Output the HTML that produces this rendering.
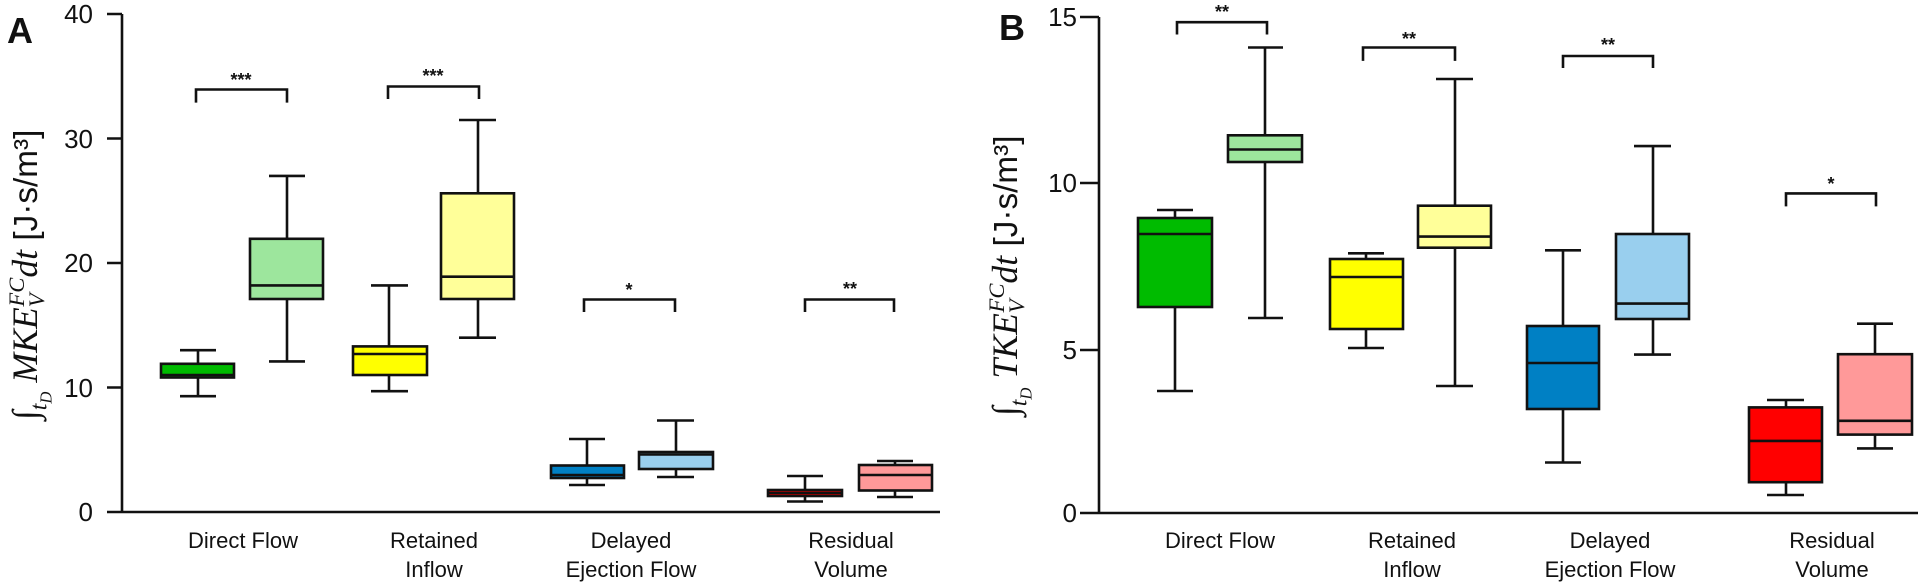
<!DOCTYPE html>
<html><head><meta charset="utf-8"><style>
html,body{margin:0;padding:0;background:#fff}
svg{display:block}
text{font-family:"Liberation Sans",Arial,sans-serif;fill:#111}
.t{font-size:26px}
.x{font-size:22px;text-anchor:middle}
.s{font-size:18px;font-weight:bold;text-anchor:middle}
.m{font-family:"Liberation Serif","DejaVu Serif",serif;font-style:italic}
</style></head><body>
<svg width="1925" height="584" viewBox="0 0 1925 584" xmlns="http://www.w3.org/2000/svg">
<g stroke="#111" stroke-width="2.6" fill="none">
<path d="M122 14V512M107 512H940M107 14H122M107 138.5H122M107 263H122M107 387.5H122"/>
<path d="M1099 17V513M1080 513H1918M1080 17H1099M1080 183H1099M1080 350H1099"/>
</g>
<g stroke="#111" stroke-width="2.6">
<path d="M198 363.8V350.2M198 377.5V396.2M180 350.2H216M180 396.2H216" fill="none"/>
<rect x="161" y="363.8" width="73" height="13.7" fill="#00bb00"/>
<path d="M161 375H234"/>
<path d="M287 238.8V175.9M287 299V361.4M269 175.9H305M269 361.4H305" fill="none"/>
<rect x="250" y="238.8" width="73" height="60.2" fill="#9de69d"/>
<path d="M250 285.4H323"/>
<path d="M389 346.4V285.4M389 375V391.2M371 285.4H408M371 391.2H408" fill="none"/>
<rect x="353" y="346.4" width="74" height="28.6" fill="#ffff00"/>
<path d="M353 354H427"/>
<path d="M478 193.3V120M478 299V337.7M459 120H496M459 337.7H496" fill="none"/>
<rect x="441" y="193.3" width="73" height="105.7" fill="#ffff99"/>
<path d="M441 276.7H514"/>
<path d="M587 465.5V439M587 478V485M569 439H605M569 485H605" fill="none"/>
<rect x="551" y="465.5" width="73" height="12.5" fill="#0080c4"/>
<path d="M551 475H624"/>
<path d="M676 452V420.5M676 469V477M657 420.5H694M657 477H694" fill="none"/>
<rect x="639" y="452" width="74" height="17" fill="#99cfee"/>
<path d="M639 454.5H713"/>
<path d="M805 490V476M805 496V501.5M787 476H823M787 501.5H823" fill="none"/>
<rect x="768" y="490" width="74" height="6" fill="#b80000"/>
<path d="M768 493H842" stroke-width="2"/>
<path d="M895 465V461M895 490.5V497M877 461H913M877 497H913" fill="none"/>
<rect x="859" y="465" width="73" height="25.5" fill="#ff9999"/>
<path d="M859 475H932"/>

<path d="M1175 218V210M1175 307V391M1157 210H1193M1157 391H1193" fill="none"/>
<rect x="1138" y="218" width="74" height="89" fill="#00bb00"/>
<path d="M1138 234H1212"/>
<path d="M1265 135.3V47.5M1265 162V318M1248 47.5H1283M1248 318H1283" fill="none"/>
<rect x="1228" y="135.3" width="74" height="26.7" fill="#9de69d"/>
<path d="M1228 149.5H1302"/>
<path d="M1366 259V253.3M1366 329V348M1348 253.3H1384M1348 348H1384" fill="none"/>
<rect x="1330" y="259" width="73" height="70" fill="#ffff00"/>
<path d="M1330 277H1403"/>
<path d="M1455 205.7V79M1455 247.7V386M1436 79H1473M1436 386H1473" fill="none"/>
<rect x="1418" y="205.7" width="73" height="42" fill="#ffff99"/>
<path d="M1418 236.6H1491"/>
<path d="M1563 326V250.3M1563 409V462.5M1545 250.3H1581M1545 462.5H1581" fill="none"/>
<rect x="1527" y="326" width="72" height="83" fill="#0080c4"/>
<path d="M1527 363H1599"/>
<path d="M1653 234V146.1M1653 319V354.6M1634 146.1H1671M1634 354.6H1671" fill="none"/>
<rect x="1616" y="234" width="73" height="85" fill="#99cfee"/>
<path d="M1616 303.6H1689"/>
<path d="M1786 407.4V400M1786 482.2V495M1767 400H1804M1767 495H1804" fill="none"/>
<rect x="1749" y="407.4" width="73" height="74.8" fill="#ff0000"/>
<path d="M1749 440.9H1822"/>
<path d="M1875 354.2V323.7M1875 434.6V448.4M1857 323.7H1893M1857 448.4H1893" fill="none"/>
<rect x="1838" y="354.2" width="74" height="80.4" fill="#ff9999"/>
<path d="M1838 420.8H1912"/>
</g>
<g stroke="#111" stroke-width="2.6" fill="none">
<path d="M196 102.6V89.5H287V102.6"/>
<path d="M388 99V86.5H479V99"/>
<path d="M584 312V299.5H675V312"/>
<path d="M805 312V299.5H894V312"/>
<path d="M1177 34.5V22.2H1267V34.5"/>
<path d="M1363 60.9V47.5H1455V60.9"/>
<path d="M1563 68V56H1653V68"/>
<path d="M1786 206.4V193.4H1876V206.4"/>
</g>
<g>
<text class="s" x="241" y="86">***</text>
<text class="s" x="433" y="82">***</text>
<text class="s" x="629" y="296">*</text>
<text class="s" x="850" y="295">**</text>
<text class="s" x="1222" y="18">**</text>
<text class="s" x="1409" y="45">**</text>
<text class="s" x="1608" y="51">**</text>
<text class="s" x="1831" y="190">*</text>
</g>
<g class="t" text-anchor="end">
<text x="93" y="23">40</text>
<text x="93" y="148">30</text>
<text x="93" y="272">20</text>
<text x="93" y="397">10</text>
<text x="93" y="521">0</text>
<text x="1077" y="26">15</text>
<text x="1077" y="192">10</text>
<text x="1077" y="359">5</text>
<text x="1077" y="522">0</text>
</g>
<g class="x">
<text x="243" y="548">Direct Flow</text>
<text x="434" y="548">Retained</text><text x="434" y="577">Inflow</text>
<text x="631" y="548">Delayed</text><text x="631" y="577">Ejection  Flow</text>
<text x="851" y="548">Residual</text><text x="851" y="577">Volume</text>
<text x="1220" y="548">Direct Flow</text>
<text x="1412" y="548">Retained</text><text x="1412" y="577">Inflow</text>
<text x="1610" y="548">Delayed</text><text x="1610" y="577">Ejection  Flow</text>
<text x="1832" y="548">Residual</text><text x="1832" y="577">Volume</text>
</g>
<text x="7" y="43" style="font-size:36px;font-weight:bold">A</text>
<text x="999" y="40" style="font-size:36px;font-weight:bold">B</text>
<text transform="translate(37,420) rotate(-90) scale(1.19)" style="font-size:30px"><tspan class="m">∫</tspan><tspan class="m" style="font-size:20px" dy="8">t</tspan><tspan class="m" style="font-size:14px" dy="4">D</tspan><tspan class="m" dy="-12"> MKE</tspan><tspan class="m" style="font-size:19px" dy="6">V</tspan><tspan class="m" style="font-size:19px" dx="-11" dy="-17">FC</tspan><tspan class="m" dy="11">dt</tspan><tspan style="font-family:'Liberation Sans',sans-serif;font-size:28px"> [J·s/m³]</tspan></text>
<text transform="translate(1017,416) rotate(-90) scale(1.19)" style="font-size:30px"><tspan class="m">∫</tspan><tspan class="m" style="font-size:20px" dy="8">t</tspan><tspan class="m" style="font-size:14px" dy="4">D</tspan><tspan class="m" dy="-12"> TKE</tspan><tspan class="m" style="font-size:19px" dy="6">V</tspan><tspan class="m" style="font-size:19px" dx="-11" dy="-17">FC</tspan><tspan class="m" dy="11">dt</tspan><tspan style="font-family:'Liberation Sans',sans-serif;font-size:28px"> [J·s/m³]</tspan></text>
</svg>
</body></html>
